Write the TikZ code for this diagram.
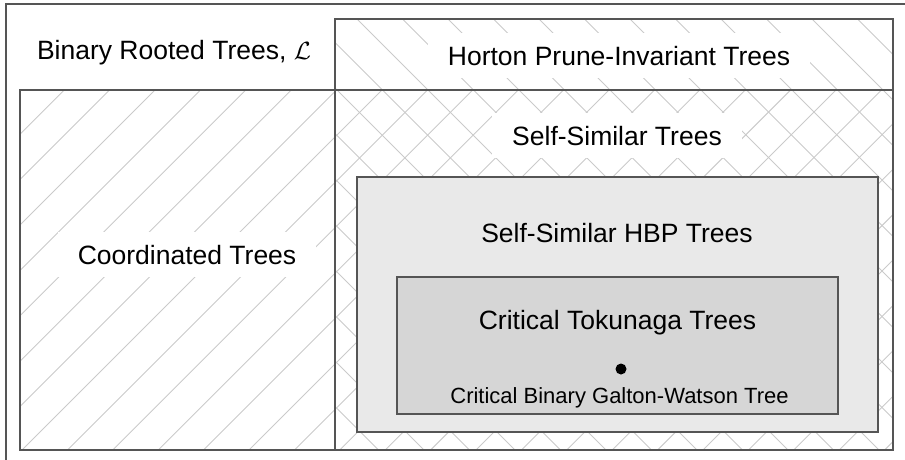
\documentclass[tikz,border=0pt]{standalone}
\usepackage{fontspec}
\setmainfont{Liberation Sans}
\definecolor{boxline}{HTML}{555555}
\definecolor{hatchgray}{HTML}{CACACA}
\definecolor{hbpfill}{HTML}{E9E9E9}
\definecolor{tokfill}{HTML}{D6D6D6}
\tikzset{
  frame/.style={draw=boxline, line width=1.3pt},
  setbox/.style={draw=boxline, line width=1.2pt},
  hatch/.style={draw=hatchgray, line width=0.9pt},
  biglbl/.style={font=\fontsize{26.5}{30}\selectfont, anchor=base, inner sep=0pt},
  whitelbl/.style={biglbl, fill=white, inner xsep=20pt, inner ysep=13pt},
  smalllbl/.style={font=\fontsize{22}{26}\selectfont, anchor=base, inner sep=0pt},
}
\begin{document}
\begin{tikzpicture}[x=1pt,y=-1pt]
\useasboundingbox (0,0) rectangle (905,459);
% outer frame (only left and top visible)
\coordinate (fBL) at (6,470);
\coordinate (fTL) at (6,4);
\coordinate (fTR) at (915,4);
\draw[frame] (fBL) -- (fTL) -- (fTR);
% hatching of Coordinated Trees (/)
\begin{scope}
  \clip (20,90) rectangle (893,450);
  \foreach \k in {-10,...,21}
    \draw[hatch] ({22+45.4*\k},450) -- ({22+45.4*\k+360},90);
\end{scope}
% hatching of Horton Prune-Invariant Trees (\)
\begin{scope}
  \clip (335,19) rectangle (893,450);
  \foreach \k in {-11,...,13}
    \draw[hatch] ({357+45.5*\k},19) -- ({357+45.5*\k+431},450);
\end{scope}
% set outlines
\coordinate (cTL) at (20,90);
\coordinate (cBR) at (893,450);
\coordinate (hTL) at (335,19);
\coordinate (hBR) at (893,450);
\draw[setbox] (cTL) rectangle (cBR);
\draw[setbox] (hTL) rectangle (hBR);
\coordinate (sTL) at (357,177);
\coordinate (sBR) at (878,432);
\draw[setbox, fill=hbpfill] (sTL) rectangle (sBR);
\coordinate (tTL) at (397,277);
\coordinate (tBR) at (838,414);
\draw[setbox, fill=tokfill] (tTL) rectangle (tBR);
% labels
\node[biglbl] (binary) at (174,59) {Binary Rooted Trees, $\mathcal{L}$};
\node[whitelbl] (horton) at (619,65) {Horton Prune-Invariant Trees};
\node[whitelbl] (selfsim) at (617,145) {Self-Similar Trees};
\node[whitelbl] (coord) at (187,264) {Coordinated Trees};
\node[biglbl] (hbp) at (617,242) {Self-Similar HBP Trees};
\node[biglbl] (tok) at (617.5,329) {Critical Tokunaga Trees};
\node[circle, fill=black, inner sep=0pt, minimum size=11pt] (gwdot) at (621,369) {};
\node[smalllbl] (gw) at (619.5,403) {Critical Binary Galton-Watson Tree};
\end{tikzpicture}
\end{document}
